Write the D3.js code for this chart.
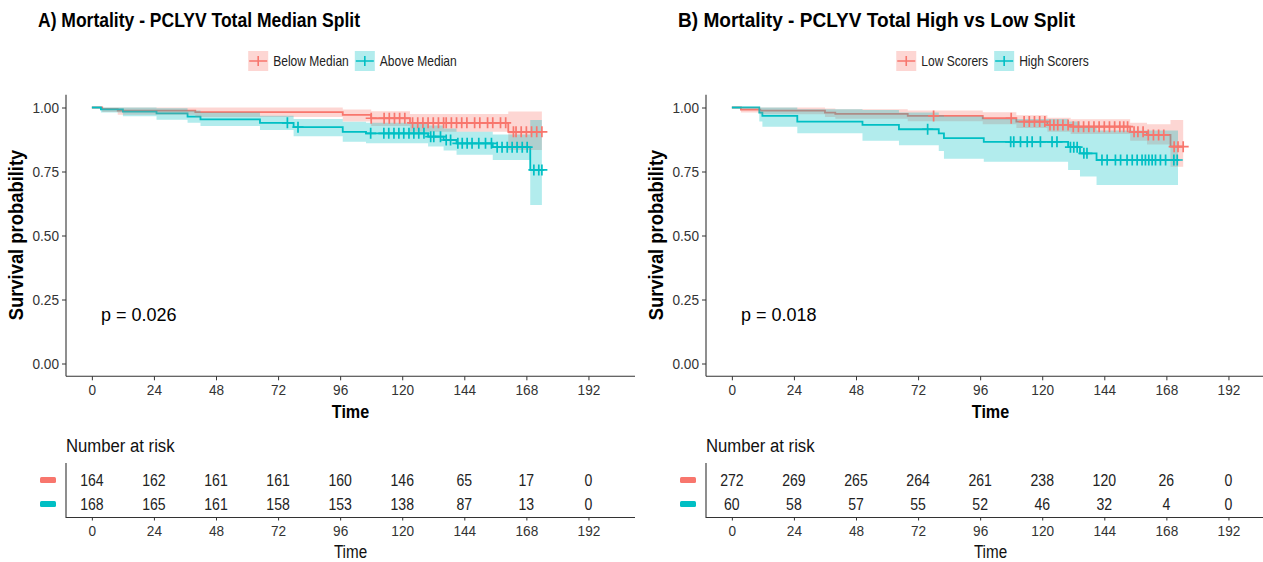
<!DOCTYPE html>
<html>
<head>
<meta charset="utf-8">
<script src="https://cdn.jsdelivr.net/npm/d3@7"></script>
<style>
  body { margin: 0; background: #fff; }
  svg { display: block; font-family: "Liberation Sans", Arial, sans-serif; }
</style>
</head>
<body>
<svg id="chart" width="1263" height="562"></svg>
<script>
////////////////////////////////////////////////////////////////////////////////////////
// data
////////////////////////////////////////////////////////////////////////////////////////
var timeTicks = [0, 24, 48, 72, 96, 120, 144, 168, 192];
var survTicks = [0, 0.25, 0.5, 0.75, 1];
var groupColors = ["#F8766D", "#00BFC4"];

// steps: [time, survival, lower CI, upper CI]
var stepsA_below = [[0, 1, 1, 1], [4, 0.994, 0.982, 1], [10, 0.988, 0.972, 1], [40, 0.982, 0.963, 1],
	[97, 0.971, 0.945, 0.992], [108, 0.958, 0.928, 0.985], [123, 0.94, 0.905, 0.975],
	[161, 0.905, 0.834, 0.984], [174, 0.905, 0.834, 0.984]];
var stepsA_above = [[0, 1, 1, 1], [3.5, 0.993, 0.98, 1], [12, 0.984, 0.966, 1], [25, 0.977, 0.952, 0.997],
	[37, 0.964, 0.94, 0.988], [42, 0.954, 0.928, 0.98], [65, 0.94, 0.912, 0.968], [78, 0.923, 0.888, 0.955],
	[97, 0.905, 0.866, 0.944], [106, 0.899, 0.86, 0.94], [130, 0.886, 0.848, 0.93], [136, 0.873, 0.832, 0.918],
	[141, 0.86, 0.815, 0.905], [155, 0.845, 0.795, 0.895], [169.5, 0.756, 0.619, 0.951], [174, 0.756, 0.619, 0.951]];
var censorA_below = [108, 113, 115, 117, 119, 121, 124, 126, 128, 130, 132, 134, 136, 137, 139, 141, 143, 145,
	148, 150, 153, 155, 158, 160, 163, 164, 166, 168, 170, 172, 174];
var censorA_above = [75.6, 79.7, 107.8, 112.9, 114.8, 116.8, 118.7, 120.6, 122.6, 124.5, 126.4, 128.4, 131,
	132.2, 134.8, 137, 138.7, 141.5, 143.2, 145.1, 147, 149.6, 152.2, 154.5, 156.7, 158.6, 160.6, 162.5, 164.4,
	166.4, 168.3, 170.9, 172.8, 174];

var stepsB_low = [[0, 1, 1, 1], [3.5, 0.992, 0.98, 1], [11, 0.988, 0.974, 1], [36, 0.98, 0.963, 0.996],
	[40, 0.975, 0.956, 0.993], [68, 0.967, 0.946, 0.988], [97, 0.958, 0.935, 0.981], [110, 0.945, 0.92, 0.97],
	[122, 0.932, 0.905, 0.96], [131, 0.925, 0.896, 0.954], [154, 0.905, 0.87, 0.94], [160.5, 0.893, 0.855, 0.935],
	[169.6, 0.847, 0.769, 0.951], [174.5, 0.847, 0.769, 0.951]];
var stepsB_high = [[0, 1, 1, 1], [10.6, 0.98, 0.945, 1], [11.8, 0.967, 0.925, 1], [25.3, 0.945, 0.899, 0.993],
	[50.5, 0.932, 0.87, 0.99], [64.6, 0.915, 0.853, 0.98], [80, 0.899, 0.83, 0.97], [82, 0.88, 0.8, 0.965],
	[97.4, 0.866, 0.788, 0.955], [130, 0.845, 0.756, 0.945], [134.6, 0.821, 0.73, 0.925], [141, 0.795, 0.697, 0.91],
	[172.5, 0.795, 0.697, 0.91]];
var censorB_low = [78, 108, 113, 115, 117, 119, 121, 123, 124.5, 126, 128, 130, 132, 134, 136, 138, 140, 142,
	144, 146, 148, 150, 151.5, 153, 155.5, 157, 159, 161, 163, 165, 167, 171, 172.5, 174.5];
var censorB_high = [75.7, 107.8, 109, 111.6, 114.2, 116.1, 119.3, 123.8, 125.7, 130.9, 132.2, 133.5, 136.1,
	137.3, 143.1, 145.1, 148.3, 150.3, 152.8, 154.8, 156.7, 158.6, 159.9, 161.2, 162.5, 163.8, 165.7, 167.7,
	170.9, 172.2];

var riskA_below = [164, 162, 161, 161, 160, 146, 65, 17, 0];
var riskA_above = [168, 165, 161, 158, 153, 138, 87, 13, 0];
var riskB_low = [272, 269, 265, 264, 261, 238, 120, 26, 0];
var riskB_high = [60, 58, 57, 55, 52, 46, 32, 4, 0];

var panels = [
	{
		x0: 0, title: "A) Mortality - PCLYV Total Median Split", titleLen: 322, pText: "p = 0.026",
		labels: ["Below Median", "Above Median"],
		steps: [stepsA_below, stepsA_above], censor: [censorA_below, censorA_above],
		risk: [riskA_below, riskA_above]
	},
	{
		x0: 640, title: "B) Mortality - PCLYV Total High vs Low Split", titleLen: 397, pText: "p = 0.018",
		labels: ["Low Scorers", "High Scorers"],
		steps: [stepsB_low, stepsB_high], censor: [censorB_low, censorB_high],
		risk: [riskB_low, riskB_high]
	}
];

////////////////////////////////////////////////////////////////////////////////////////
// drawing
////////////////////////////////////////////////////////////////////////////////////////
var svg = d3.select("#chart");
var axisColor = "#333";
var SX = 0.88; // the original font is a bit condensed

function survAt(steps, t) {
	var s = steps[0][1];
	for (var i = 0; i < steps.length; i++) {
		if (steps[i][0] <= t) s = steps[i][1];
	}
	return s;
}

// squeeze text horizontally around its anchor point
function narrow(sel, sx) {
	sel.each(function () {
		var t = d3.select(this);
		var x = +t.attr("x") || 0, y = +t.attr("y") || 0;
		t.attr("x", 0).attr("y", 0)
			.attr("transform", "translate(" + x + "," + y + ") scale(" + sx + ",1)");
	});
	return sel;
}

function drawPanel(p) {
	var g = svg.append("g").attr("transform", "translate(" + p.x0 + ",0)");

	var x = d3.scaleLinear().domain([-10, 210]).range([66, 635]);
	var y = d3.scaleLinear().domain([-0.05, 1.05]).range([376.3, 94.7]);

	// title
	g.append("text")
		.attr("x", 38).attr("y", 27)
		.attr("font-size", 21).attr("font-weight", "bold")
		.attr("textLength", p.titleLen).attr("lengthAdjust", "spacingAndGlyphs")
		.text(p.title);

	// legend
	var leg = g.append("g");
	var lx = 0;
	p.labels.forEach(function (lab, i) {
		var item = leg.append("g").attr("transform", "translate(" + lx + ",0)");
		item.append("rect").attr("x", 0).attr("y", -10).attr("width", 20).attr("height", 20)
			.attr("fill", groupColors[i]).attr("fill-opacity", 0.3);
		item.append("path").attr("d", "M1,0H19M10,-5V5")
			.attr("stroke", groupColors[i]).attr("stroke-width", 1.6).attr("fill", "none");
		var t = item.append("text").attr("x", 25).attr("y", 5)
			.attr("font-size", 14).attr("fill", "#222").text(lab);
		var w = t.node().getComputedTextLength() * 0.86;
		narrow(t, 0.86);
		lx += 25 + w + 6;
	});
	var legW = lx - 6;
	leg.attr("transform", "translate(" + ((66 + 635) / 2 + 2 - legW / 2) + ",61)");

	// lines, ribbons, censor marks
	var line = d3.line().x(function (d) { return x(d[0]); }).y(function (d) { return y(d[1]); })
		.curve(d3.curveStepAfter);
	var area = d3.area().x(function (d) { return x(d[0]); })
		.y0(function (d) { return y(d[2]); }).y1(function (d) { return y(d[3]); })
		.curve(d3.curveStepAfter);

	p.steps.forEach(function (st, i) {
		g.append("path").attr("d", line(st)).attr("fill", "none")
			.attr("stroke", groupColors[i]).attr("stroke-width", 1.8);
	});
	p.steps.forEach(function (st, i) {
		g.append("path").attr("d", area(st)).attr("fill", groupColors[i]).attr("fill-opacity", 0.3);
	});
	p.censor.forEach(function (cs, i) {
		g.selectAll(null).data(cs).enter().append("path")
			.attr("transform", function (t) { return "translate(" + x(t) + "," + y(survAt(p.steps[i], t)) + ")"; })
			.attr("d", "M-5.5,0H5.5M0,-5.5V5.5")
			.attr("stroke", groupColors[i]).attr("stroke-width", 1.7);
	});

	// axes
	var yAxis = g.append("g").attr("transform", "translate(66,0)")
		.call(d3.axisLeft(y).tickValues(survTicks).tickFormat(d3.format(".2f")).tickSize(4).tickPadding(3));
	var xAxis = g.append("g").attr("transform", "translate(0,376.3)")
		.call(d3.axisBottom(x).tickValues(timeTicks).tickSize(4).tickPadding(4));
	[yAxis, xAxis].forEach(function (a) {
		a.select(".domain").attr("stroke", axisColor).attr("stroke-width", 1.1);
		a.selectAll(".tick line").attr("stroke", axisColor);
		a.selectAll(".tick text").attr("fill", axisColor).attr("font-size", 15.5)
			.attr("font-family", "Liberation Sans, Arial, sans-serif");
		narrow(a.selectAll(".tick text"), SX);
	});
	yAxis.select(".domain").attr("d", "M0,94.7V376.3");
	xAxis.select(".domain").attr("d", "M66,0H635");

	g.append("text").attr("transform", "translate(23,235) rotate(-90) scale(0.92,1)")
		.attr("text-anchor", "middle").attr("font-size", 20).attr("font-weight", "bold")
		.text("Survival probability");
	narrow(g.append("text").attr("x", (66 + 635) / 2).attr("y", 418)
		.attr("text-anchor", "middle").attr("font-size", 19).attr("font-weight", "bold")
		.text("Time"), 0.85);

	g.append("text").attr("x", x(3.5)).attr("y", 321).attr("font-size", 18).text(p.pText);

	// risk table
	narrow(g.append("text").attr("x", 66).attr("y", 452).attr("font-size", 19).attr("fill", "#111")
		.text("Number at risk"), SX);
	var rowY = [480, 504];
	p.risk.forEach(function (r, i) {
		g.append("rect").attr("x", 40).attr("y", rowY[i] - 3).attr("width", 16).attr("height", 6)
			.attr("rx", 1.5).attr("fill", groupColors[i]);
		narrow(g.selectAll(null).data(r).enter().append("text")
			.attr("x", function (d, k) { return x(timeTicks[k]); })
			.attr("y", rowY[i] + 5.5)
			.attr("text-anchor", "middle").attr("font-size", 16).attr("fill", "#222")
			.text(function (d) { return d; }), SX);
	});
	g.append("path").attr("d", "M66,463V517.5H635").attr("fill", "none")
		.attr("stroke", axisColor).attr("stroke-width", 1.1);
	var tAxis = g.append("g").attr("transform", "translate(0,517.5)")
		.call(d3.axisBottom(x).tickValues(timeTicks).tickSize(3).tickPadding(4));
	tAxis.select(".domain").remove();
	tAxis.selectAll(".tick line").attr("stroke", axisColor);
	tAxis.selectAll(".tick text").attr("fill", axisColor).attr("font-size", 15.5)
		.attr("font-family", "Liberation Sans, Arial, sans-serif");
	narrow(tAxis.selectAll(".tick text"), SX);
	narrow(g.append("text").attr("x", (66 + 635) / 2).attr("y", 558)
		.attr("text-anchor", "middle").attr("font-size", 17.5).attr("fill", "#111")
		.text("Time"), 0.87);
}

panels.forEach(drawPanel);
</script>
</body>
</html>
